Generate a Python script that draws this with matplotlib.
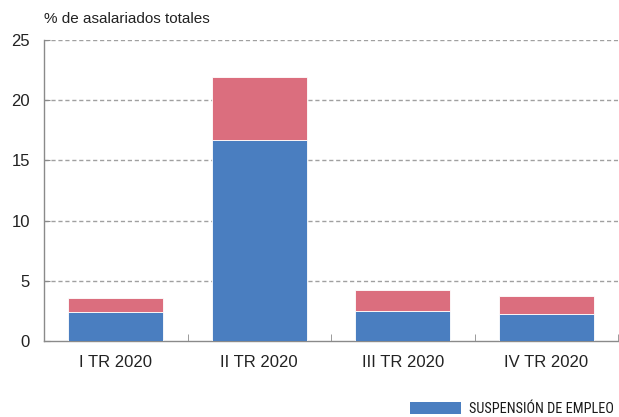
import matplotlib
matplotlib.use("Agg")
import matplotlib.pyplot as plt
import numpy as np
from matplotlib.patches import Patch

categories = ["I TR 2020", "II TR 2020", "III TR 2020", "IV TR 2020"]
suspension = [2.42, 16.7, 2.5, 2.25]
reduccion = [1.15, 5.2, 1.74, 1.5]
yticks = [0, 5, 10, 15, 20, 25]

blue = "#4a7ec0"
red = "#db6e7e"
gray = "#8a8a8a"

plt.rcParams['font.family'] = ['Liberation Sans', 'DejaVu Sans']

fig = plt.figure(figsize=(6.19, 4.17), dpi=100)
ax = fig.add_axes([44/619, 1-341/417, 574/619, 301/417])

x = np.arange(len(categories))
ax.bar(x, suspension, width=0.66, color=blue, edgecolor="white", linewidth=0.6, zorder=3)
ax.bar(x, reduccion, bottom=suspension, width=0.66, color=red, edgecolor="white", linewidth=0.6, zorder=3)

ax.set_xlim(-0.5, len(categories) - 0.5)
ax.set_ylim(0, 25)
ax.set_yticks(yticks)
ax.set_yticklabels([str(v) for v in yticks], fontsize=12, color="#222222")
ax.tick_params(axis='y', length=4, direction='in', color=gray, pad=10)

ax.set_xticks(x)
ax.set_xticklabels(categories, fontsize=12, color="#222222")
ax.tick_params(axis='x', length=0, pad=10)
ax.set_xticks(np.arange(len(categories)) + 0.5, minor=True)
ax.tick_params(axis='x', which='minor', length=5, direction='in', color=gray)

for yv in yticks[1:]:
    ax.axhline(yv, color="#a0a0a0", linestyle=(0, (3, 2)), linewidth=1.0, zorder=1)

for s in ["top", "right"]:
    ax.spines[s].set_visible(False)
for s in ["left", "bottom"]:
    ax.spines[s].set_color(gray)
    ax.spines[s].set_linewidth(1.0)

fig.text(44/619, 1-19/417, "% de asalariados totales", fontsize=11, color="#222222",
         ha="left", va="center")

narrow = ['Roboto Condensed', 'Liberation Sans', 'DejaVu Sans']
leg = fig.legend(handles=[Patch(facecolor=blue, edgecolor="none")], labels=["SUSPENSIÓN DE EMPLEO"],
                 loc="upper left", bbox_to_anchor=(404/619, 1-396/417), frameon=False,
                 handlelength=3.6, handleheight=0.9, handletextpad=0.55, borderaxespad=0,
                 prop={'family': narrow, 'size': 10.3})
for t in leg.get_texts():
    t.set_color("#1a1a1a")

fig.savefig("out.png", dpi=100)
